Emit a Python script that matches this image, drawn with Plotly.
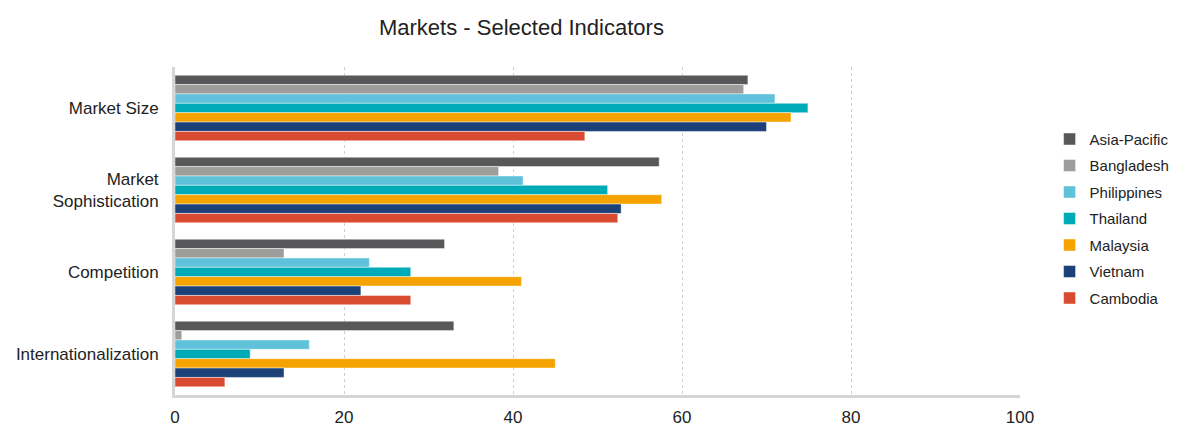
import plotly.graph_objects as go

## ___Data___
categories = ["Market Size", "Market<br>Sophistication", "Competition", "Internationalization"]

asia_pacific = [67.8, 57.3, 31.9, 33.0]
bangladesh = [67.3, 38.3, 12.9, 0.8]
philippines = [71.0, 41.2, 23.0, 15.9]
thailand = [74.9, 51.2, 27.9, 8.9]
malaysia = [72.9, 57.6, 41.0, 45.0]
vietnam = [70.0, 52.8, 22.0, 12.9]
cambodia = [48.5, 52.4, 27.9, 5.9]

series = [
    ("Asia-Pacific", asia_pacific, "#58585a"),
    ("Bangladesh", bangladesh, "#9d9d9c"),
    ("Philippines", philippines, "#5fc2da"),
    ("Thailand", thailand, "#00abb8"),
    ("Malaysia", malaysia, "#f5a300"),
    ("Vietnam", vietnam, "#1c4178"),
    ("Cambodia", cambodia, "#d94b30"),
]

x_ticks = [0, 20, 40, 60, 80, 100]

## ___Plotting___
fig = go.Figure()

for name, vals, color in series:
    fig.add_trace(go.Bar(
        y=categories,
        x=vals,
        name=name,
        orientation="h",
        marker=dict(color=color, line=dict(color="rgba(255,255,255,0.45)", width=1)),
        legendgroup=name,
    ))

fig.update_layout(
    width=1180,
    height=428,
    barmode="group",
    bargap=0.2,
    bargroupgap=0,
    plot_bgcolor="white",
    paper_bgcolor="white",
    font=dict(family="Liberation Sans, Arial, sans-serif", color="#222222", size=16),
    margin=dict(l=175, r=160, t=67, b=33, autoexpand=False),
    title=dict(
        text="Markets - Selected Indicators",
        x=0.41, xref="paper", xanchor="center",
        y=1 - 27 / 428, yref="container", yanchor="middle",
        font=dict(size=22, color="#222222"),
    ),
    legend=dict(
        x=1.035, xanchor="left",
        y=0.83, yanchor="top",
        font=dict(size=15, color="#222222"),
        traceorder="grouped",
        tracegroupgap=4,
        itemwidth=30,
    ),
    xaxis=dict(
        range=[0, 100],
        tickvals=x_ticks,
        showgrid=True,
        gridcolor="#d0d0d0",
        griddash="3px,3px",
        gridwidth=1,
        zeroline=False,
        showline=True,
        linecolor="#d6d6d6",
        linewidth=3,
        ticks="",
        ticklabelstandoff=5,
        tickfont=dict(size=17),
        automargin=False,
    ),
    yaxis=dict(
        autorange="reversed",
        showgrid=False,
        showline=True,
        linecolor="#d6d6d6",
        linewidth=3,
        ticks="",
        ticklabelstandoff=10,
        tickfont=dict(size=17),
        automargin=False,
    ),
)

fig.write_html("out.html", config={"displayModeBar": False},
               post_script="document.body.style.margin='0px';")
